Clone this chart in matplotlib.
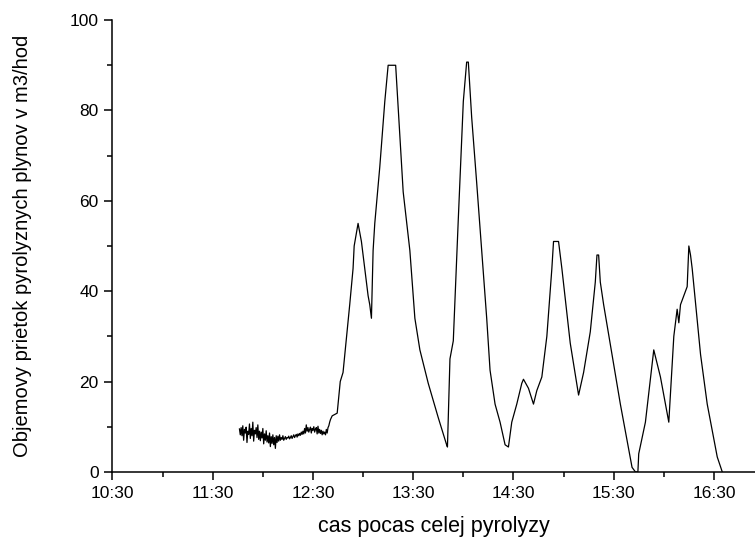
import matplotlib.pyplot as plt
from matplotlib.ticker import MultipleLocator, FuncFormatter
import numpy as np

# noisy start of the run: one reading every 30 s from 11:46
noise_start = "11:46:00"
noise_step_s = 30
noise_vals = [9.5, 8.2, 9.8, 8.0, 10.2, 7.0, 9.4, 8.6, 9.9, 6.5, 9.0, 8.3,
              10.6, 7.4, 9.6, 8.0, 11.0, 6.8, 9.2, 8.4, 9.8, 7.6, 10.4, 7.2,
              9.0, 6.9, 8.8, 7.5, 9.6, 6.2, 8.4, 7.0, 9.1, 6.6, 8.0, 6.4,
              8.6, 5.6, 7.8, 6.3, 8.2, 6.0, 7.6, 5.2, 8.0, 6.5, 7.9, 6.8,
              8.2, 7.0, 7.6, 7.2, 8.0, 7.0, 7.4, 7.8, 7.2, 7.6, 7.5, 7.9,
              7.3, 7.6, 8.0, 7.4, 7.8, 8.2, 7.6, 8.0, 8.3, 7.7, 8.4, 8.0,
              8.5, 8.1, 8.8, 8.3, 9.0, 8.4, 9.6, 8.6, 10.4, 9.0, 9.8, 8.8,
              9.4, 9.9, 8.6, 9.6, 9.2, 10.0, 8.8, 9.4, 9.8, 8.4, 10.1, 8.6,
              9.4, 8.5, 9.2, 8.2, 9.0, 8.4, 8.8, 8.2, 9.4, 8.6, 9.8, 10.2,
              11.0, 11.6, 12.0, 12.4]

# main part of the run
main_times = ["12:44:30", "12:46:20", "12:48:00", "12:52:00", "12:54:00", "12:54:40",
              "12:57:00", "12:59:00", "13:01:00", "13:03:00", "13:04:00", "13:05:00",
              "13:06:00", "13:07:00", "13:10:00", "13:13:00", "13:15:00",
              "13:19:30", "13:24:00", "13:28:00", "13:31:00", "13:34:00",
              "13:39:00", "13:45:00", "13:50:00", "13:50:30", "13:52:00", "13:54:00",
              "13:57:00", "14:00:00", "14:02:00", "14:03:00", "14:05:00",
              "14:08:00", "14:11:00", "14:14:00", "14:16:00", "14:19:00", "14:22:00",
              "14:25:00", "14:27:00",
              "14:29:00", "14:32:00", "14:35:00", "14:36:00", "14:39:00", "14:42:00",
              "14:44:00", "14:47:00", "14:50:00", "14:53:00", "14:54:00", "14:57:00",
              "14:59:00", "15:04:00", "15:09:00", "15:12:00", "15:16:00", "15:19:00",
              "15:20:00", "15:21:00", "15:22:00", "15:24:00", "15:34:00", "15:41:00",
              "15:43:00", "15:44:30", "15:45:00", "15:49:00", "15:54:00", "15:58:00",
              "16:03:00", "16:06:00", "16:08:00", "16:09:00", "16:10:00", "16:14:00",
              "16:15:00", "16:16:00", "16:17:00", "16:22:00", "16:26:00", "16:32:00",
              "16:35:00"]
main_vals = [13, 20, 22, 37, 45, 50,
             55, 51, 45, 39, 37, 34,
             49, 55, 67.5, 82, 90,
             90, 62, 49, 34, 27,
             19.6, 12, 6, 5.5, 25, 29,
             56, 82, 90.7, 90.7, 78.5,
             64, 49, 34, 22.5, 15, 11,
             6, 5.5,
             11, 15, 19.6, 20.5, 18.5, 15,
             18, 21, 30, 45, 51, 51,
             45, 28.5, 17, 22, 31, 42,
             48, 48, 42, 37, 15, 1,
             0, 0, 4, 11, 27, 21,
             11, 30, 36, 33, 37, 41,
             50, 48, 45, 26, 15, 3.3,
             0]


def to_hours(s):
    h, m, sec = [int(p) for p in s.split(":")]
    return h + m / 60 + sec / 3600


t0 = to_hours(noise_start)
noise_t = [t0 + i * noise_step_s / 3600 for i in range(len(noise_vals))]
t = np.array(noise_t + [to_hours(s) for s in main_times])
v = np.array(noise_vals + main_vals)

plt.rcParams['font.family'] = ['Liberation Sans', 'DejaVu Sans']

fig = plt.figure(figsize=(7.55, 5.43), dpi=100)
ax = fig.add_axes([0.149, 0.131, 0.851, 0.832])
ax.plot(t, v, color='black', lw=0.9)

ax.set_xlim(10.5, 16.91)
ax.set_ylim(0, 100)
ax.xaxis.set_major_locator(MultipleLocator(1.0, offset=0.5))
ax.xaxis.set_minor_locator(MultipleLocator(0.5))
ax.xaxis.set_major_formatter(FuncFormatter(
    lambda x, p: "%d:%02d" % (int(x), round((x - int(x)) * 60))))
ax.yaxis.set_major_locator(MultipleLocator(20))
ax.yaxis.set_minor_locator(MultipleLocator(10))

for side in ['top', 'right']:
    ax.spines[side].set_visible(False)
for side in ['left', 'bottom']:
    ax.spines[side].set_linewidth(1.1)
ax.tick_params(which='major', length=6, width=1.1, labelsize=12.5, pad=4)
ax.tick_params(which='minor', length=3.5, width=1.1)

ax.set_xlabel('cas pocas celej pyrolyzy', fontsize=15.5, labelpad=11)
ax.set_ylabel('Objemovy prietok pyrolyznych plynov v m3/hod', fontsize=14.5, labelpad=27)

fig.savefig('out.png', dpi=100)
